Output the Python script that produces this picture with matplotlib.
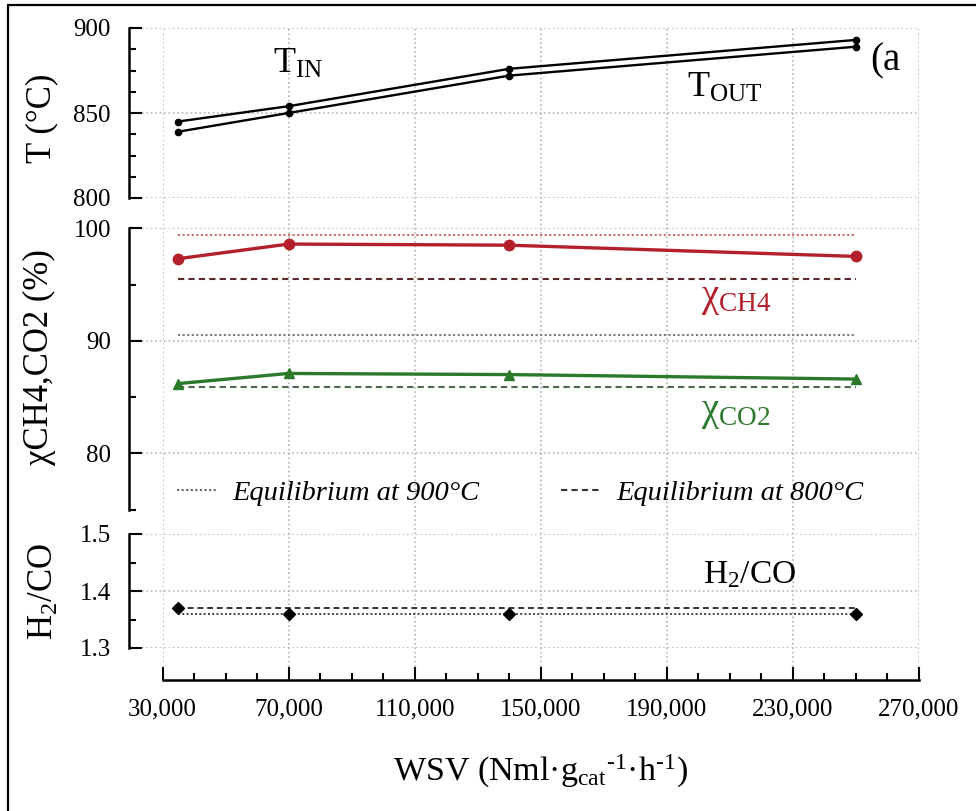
import matplotlib
matplotlib.use("Agg")
import matplotlib.pyplot as plt
from matplotlib.ticker import MultipleLocator, FixedLocator
from matplotlib.lines import Line2D
from matplotlib.patches import Rectangle

plt.rcParams['font.family'] = ['Liberation Serif', 'DejaVu Serif']
plt.rcParams['mathtext.fontset'] = 'custom'
plt.rcParams['mathtext.rm'] = 'Liberation Serif'
plt.rcParams['mathtext.it'] = 'Liberation Serif:italic'
plt.rcParams['mathtext.bf'] = 'Liberation Serif:bold'

# ---------------- data ----------------
wsv = [35000, 70000, 140000, 250000]
t_in = [845, 854, 876, 893]
t_out = [839, 850, 872, 889]
x_ch4 = [97.3, 98.6, 98.5, 97.5]
x_co2 = [86.2, 87.1, 87.0, 86.6]
h2co = [1.37, 1.36, 1.36, 1.36]
eq900_ch4 = [99.4, 99.4, 99.4, 99.4]
eq800_ch4 = [95.5, 95.5, 95.5, 95.5]
eq900_co2 = [90.5, 90.5, 90.5, 90.5]
eq800_co2 = [85.9, 85.9, 85.9, 85.9]
eq900_h2co = [1.36, 1.36, 1.36, 1.36]
eq800_h2co = [1.37, 1.37, 1.37, 1.37]
wsv_ticks = [30000, 70000, 110000, 150000, 190000, 230000, 270000]
wsv_tick_labels = ['30,000', '70,000', '110,000', '150,000', '190,000', '230,000', '270,000']
t_ticks = [800, 850, 900]
x_ticks = [80, 90, 100]
h_ticks = [1.3, 1.4, 1.5]

# ---------------- layout ----------------
W, H = 976, 811
fig = plt.figure(figsize=(W / 100, H / 100), dpi=100)

def rect(l, t, r, b):
    return [l / W, 1 - b / H, (r - l) / W, (b - t) / H]

X0P, X1P = 162.5, 919.0
XMIN, XMAX = 30000, 270000
PL = 142.0
xleft = XMIN - (X0P - PL) / (X1P - X0P) * (XMAX - XMIN)

RED = '#b3202c'
GREEN = '#2b7a2b'
GRID = '#b5b5b5'

# background axes: x axis + vertical grid
bg = fig.add_axes(rect(X0P, 28, X1P, 680), zorder=0)
bg.set_xlim(XMIN, XMAX)
bg.set_ylim(0, 1)
bg.set_yticks([])
for s in ['left', 'right', 'top']:
    bg.spines[s].set_visible(False)
bg.spines['bottom'].set_linewidth(1.8)
bg.set_xticks(wsv_ticks, wsv_tick_labels)
bg.xaxis.set_minor_locator(MultipleLocator(10000))
bg.tick_params(axis='x', which='major', direction='in', length=9.5, width=1.5, pad=13, labelsize=18)
bg.tick_params(axis='x', which='minor', direction='in', length=5, width=1.5)
bg.grid(axis='x', which='major', ls=':', color=GRID, lw=1.2)
bg.set_xlabel(r'WSV (Nml·g$_{\rm cat}$$^{\text{-1}}$·h$^{\text{-1}}$)', fontsize=24.5, labelpad=24)

def panel(t, b, ylim, ticks, minor):
    ax = fig.add_axes(rect(PL, t, X1P, b), zorder=2)
    ax.set_facecolor('none')
    ax.set_xlim(xleft, XMAX)
    ax.set_ylim(*ylim)
    for s in ['right', 'top', 'bottom']:
        ax.spines[s].set_visible(False)
    ax.spines['left'].set_position(('outward', 13 * 72 / 100))
    ax.spines['left'].set_linewidth(1.8)
    ax.set_xticks([])
    ax.yaxis.set_major_locator(FixedLocator(ticks))
    ax.yaxis.set_minor_locator(MultipleLocator(minor))
    ax.tick_params(axis='y', which='major', direction='in', length=9.5, width=1.5, pad=13, labelsize=18)
    ax.tick_params(axis='y', which='minor', direction='in', length=5, width=1.5)
    ax.grid(axis='y', which='major', ls=':', color=GRID, lw=1.2)
    return ax

axT = panel(28, 198, (800, 900), t_ticks, 12.5)
axM = panel(228.3, 509.6, (75, 100), x_ticks, 5)
axB = panel(534, 648, (1.3, 1.5), h_ticks, 0.05)
axT.set_yticklabels(['800', '850', '900'])
axM.set_yticklabels(['80', '90', '100'])
axB.set_yticklabels(['1.3', '1.4', '1.5'])

# ---- temperature panel ----
axT.plot(wsv, t_in, color='black', lw=1.7, marker='o', ms=4.5)
axT.plot(wsv, t_out, color='black', lw=1.7, marker='o', ms=4.5)
axT.text(65000, 873.5, r'T$_{\rm IN}$', fontsize=26, ha='left', va='baseline')
axT.text(196400, 859.4, r'T$_{\rm OUT}$', fontsize=26, ha='left', va='baseline')
axT.text(254500, 875, '(a', fontsize=28, ha='left', va='baseline', clip_on=False)

# ---- conversion panel ----
dash = (0, (3, 2))
dot = (0, (1, 1.2))
axM.plot(wsv, eq900_ch4, ls=dot, color='#cf6a6a', lw=1.5)
axM.plot(wsv, eq800_ch4, ls=dash, color='#5b2a2a', lw=1.5)
axM.plot(wsv, eq900_co2, ls=dot, color='#7a7a7a', lw=1.5)
axM.plot(wsv, eq800_co2, ls=dash, color='#4a6a4a', lw=1.5)
axM.plot(wsv, x_ch4, color=RED, lw=2.4, marker='o', ms=7.5)
axM.plot(wsv, x_co2, color=GREEN, lw=2.4, marker='^', ms=7.5)
axM.text(211900, 93.8, r'χ$_{\rm CH4}$', fontsize=28, color=RED, ha='center', va='center')
axM.text(211900, 83.6, r'χ$_{\rm CO2}$', fontsize=28, color=GREEN, ha='center', va='center')
handles = [Line2D([], [], ls=dot, color='#666666', lw=1.5),
           Line2D([], [], ls=dash, color='#333333', lw=1.5)]
axM.legend(handles, ['Equilibrium at 900°C', 'Equilibrium at 800°C'],
           loc='center left', bbox_to_anchor=(0.012, 0.059), ncol=2, frameon=False,
           handlelength=1.4, handletextpad=0.55, columnspacing=2.85,
           prop=dict(style='italic', size=20.5))

# ---- H2/CO panel ----
axB.plot(wsv, eq800_h2co, ls=dash, color='#333333', lw=1.4)
axB.plot(wsv, eq900_h2co, ls=dot, color='#444444', lw=1.4)
axB.plot(wsv, h2co, ls='none', color='black', marker='D', ms=6.5)
axB.text(216400, 1.428, r'H$_2$/CO', fontsize=24, ha='center', va='center')

# ---- y labels ----
fig.text(42 / W, 1 - 118 / H, 'T (°C)', rotation=90, fontsize=25, ha='center', va='center')
fig.text(39 / W, 1 - 357 / H, 'χCH4,CO2 (%)', rotation=90, fontsize=25, ha='center', va='center')
fig.text(44 / W, 1 - 592 / H, r'H$_2$/CO', rotation=90, fontsize=25, ha='center', va='center')

# frame
fig.patches.append(Rectangle((8 / W, -0.2), 1.5, 1.2 - 5 / H, transform=fig.transFigure,
                             fill=False, edgecolor='black', lw=1.6))

fig.savefig('out.png', dpi=100)
